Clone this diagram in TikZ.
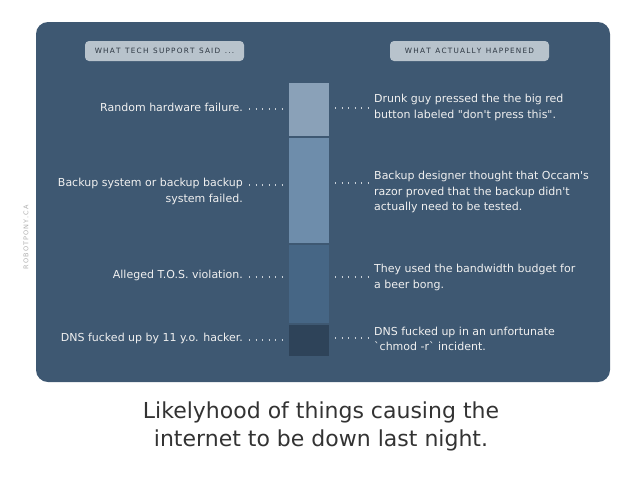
\documentclass[tikz,border=0pt]{standalone}
\usepackage{fontspec}
\setmainfont{DejaVu Sans}[Ligatures=TeXOff]
\definecolor{panel}{RGB}{62,88,114}
\definecolor{hdrfill}{RGB}{184,195,204}
\definecolor{hdrtext}{RGB}{45,55,66}
\definecolor{segA}{RGB}{138,161,184}
\definecolor{segB}{RGB}{110,141,171}
\definecolor{segC}{RGB}{70,102,133}
\definecolor{segD}{RGB}{46,67,89}
\definecolor{dotcol}{RGB}{200,208,216}
\definecolor{titlecol}{RGB}{51,51,51}
\definecolor{sidecol}{RGB}{175,175,175}
\begin{document}
\begin{tikzpicture}[x=1pt,y=-1pt,
  hdr/.style={fill=hdrfill, rounded corners=4pt, minimum width=159pt, minimum height=20pt, inner sep=0pt, text=hdrtext, font=\fontsize{7.3}{8}\selectfont},
  seg/.style={minimum width=40pt, inner sep=0pt, outer sep=0pt},
  lbl/.style={text=white!94!black, font=\fontsize{11}{15.5}\selectfont, inner sep=0pt},
  ltext/.style={lbl, anchor=east, align=right},
  rtext/.style={lbl, anchor=west, align=left},
  dots/.style={dotcol, line width=1.3pt, dash pattern=on 1.3pt off 5.2pt}
]
\useasboundingbox (0,0) rectangle (640,480);
\fill[panel, rounded corners=12pt] (36,22) rectangle (610,382);
% headers
\node[hdr] (h1) at (164.5,51) {W\,H\,A\,T\ \ T\,E\,C\,H\ \ S\,U\,P\,P\,O\,R\,T\ \ S\,A\,I\,D\ \ .\,.\,.};
\node[hdr] (h2) at (469.5,51) {W\,H\,A\,T\ \ A\,C\,T\,U\,A\,L\,L\,Y\ \ H\,A\,P\,P\,E\,N\,E\,D};
% bar segments
\node[seg, fill=segA, minimum height=53pt] (s1) at (309,109.5) {};
\node[seg, fill=segB, minimum height=105pt] (s2) at (309,190.5) {};
\node[seg, fill=segC, minimum height=78pt] (s3) at (309,284) {};
\node[seg, fill=segD, minimum height=31pt] (s4) at (309,340.5) {};
% left labels
\node[ltext] (l1) at (243,107) {Random hardware failure.};
\node[ltext] (l2) at (243,191.5) {Backup system or backup backup\\system failed.};
\node[ltext] (l3) at (243,275) {Alleged T.O.S. violation.};
\node[ltext] (l4) at (243,338) {DNS fucked up by 11 y.o. hacker.};
% right labels
\node[rtext] (r1) at (374,107.5) {Drunk guy pressed the the big red\\button labeled "don't press this".};
\node[rtext] (r2) at (374,192) {Backup designer thought that Occam's\\razor proved that the backup didn't\\actually need to be tested.};
\node[rtext] (r3) at (374,277.5) {They used the bandwidth budget for\\a beer bong.};
\node[rtext] (r4) at (374,339) {DNS fucked up in an unfortunate\\`chmod -r` incident.};
% dotted connectors
\foreach \i/\y in {1/109,2/185,3/277,4/340} {
  \coordinate (la\i) at (249,\y);
  \coordinate (lb\i) at (283,\y);
  \draw[dots] (la\i) -- (lb\i);
}
\foreach \i/\y in {1/108,2/183,3/277,4/338} {
  \coordinate (ra\i) at (335,\y);
  \coordinate (rb\i) at (369,\y);
  \draw[dots] (ra\i) -- (rb\i);
}
% side text
\node[rotate=90, text=sidecol, font=\fontsize{6.5}{7}\selectfont, inner sep=0pt] (side) at (26,237) {R\,O\,B\,O\,T\,P\,O\,N\,Y\,.\,C\,A};
% title
\node[text=titlecol, font=\fontsize{22}{28}\selectfont, align=center, inner sep=0pt] (title) at (321,426) {Likelyhood of things causing the\\internet to be down last night.};
\end{tikzpicture}
\end{document}
